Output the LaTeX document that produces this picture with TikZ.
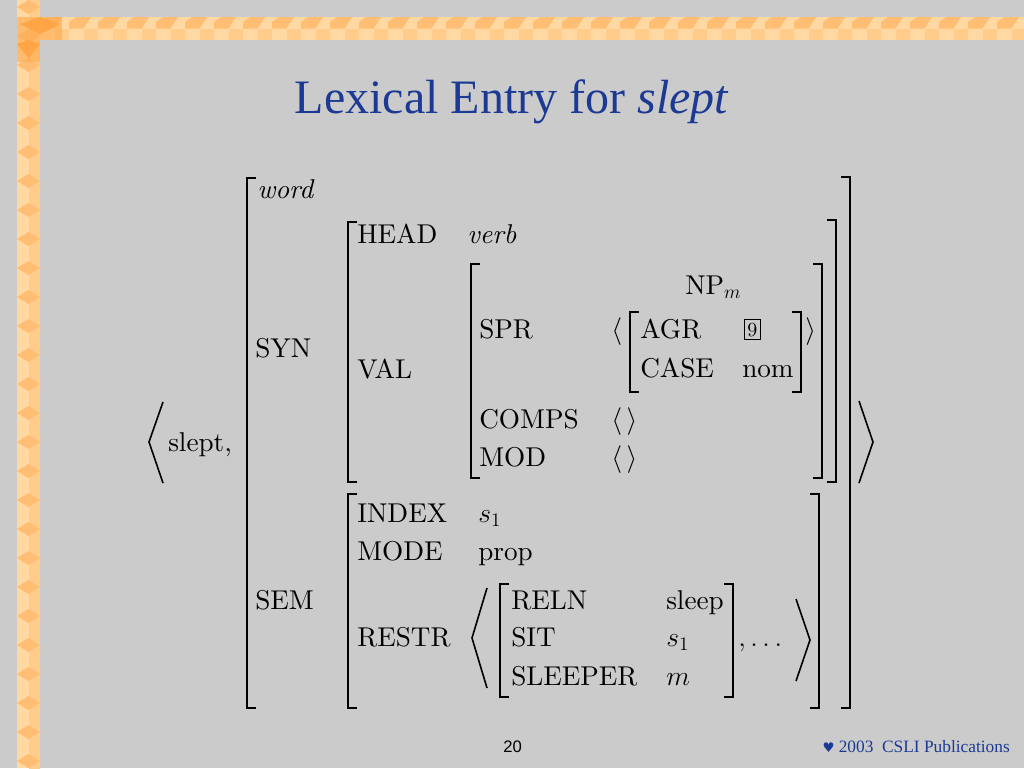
\documentclass[tikz,border=0pt]{standalone}
\usepackage{fontspec}
\newfontfamily\avmrm{lmroman10-regular}[Extension=.otf,ItalicFont=lmroman10-italic]
\newfontfamily\timesfont{Liberation Serif}
\newfontfamily\arialfont{Liberation Sans}
\newfontfamily\symbfont{DejaVu Sans}
\definecolor{slidebg}{HTML}{CBCBCB}
\definecolor{titleblue}{HTML}{1C3A94}
\definecolor{orlight}{HTML}{FFD8A2}
\definecolor{ormid}{HTML}{FFCC8C}
\definecolor{ordark}{HTML}{FFBE74}
\definecolor{orcorner}{HTML}{FFA545}
\newcommand{\avmfont}{\avmrm\fontsize{20.4}{24}\selectfont}
% brackets of the attribute-value matrix
\newcommand{\avmlbrack}[3]{\draw[brk] (#1+9,#2)--(#1,#2)--(#1,#3)--(#1+9,#3);}
\newcommand{\avmrbrack}[3]{\draw[brk] (#1-9,#2)--(#1,#2)--(#1,#3)--(#1-9,#3);}
\tikzset{
  lbl/.style={anchor=base west,inner sep=0pt,font=\avmfont},
  brk/.style={line width=1.6pt},
  ang/.style={line width=1.2pt,line join=miter}
}
\begin{document}
\begin{tikzpicture}[x=0.75pt,y=-0.75pt]
\useasboundingbox (0,0) rectangle (1024,768);
\fill[slidebg] (0,0) rectangle (1024,768);
% orange border
\fill[orlight] (17,0) rectangle (40,768);\fill[orlight] (17,17) rectangle (1024,40);
\foreach \y in {0,29,...,756} {\fill[ormid] (28.5,\y) rectangle (40,\y+29);\fill[ordark] (17,\y+7)--(28.5,\y)--(40,\y+7)--(28.5,\y+14)--cycle;}
\foreach \x in {40,69,...,1020} {\fill[ormid] (\x+14.5,28.5) rectangle (\x+29,40);\fill[ordark] (\x,22)--(\x+7,17)--(\x+22,17)--(\x+14.5,28.5)--(\x,28.5)--cycle;}
\fill[orcorner,opacity=0.55] (17,17) rectangle (62,40);\fill[orcorner,opacity=0.55] (17,40) rectangle (40,62);
\fill[orcorner] (20,24)--(40,17)--(60,24)--(40,34)--cycle;\fill[orcorner] (17,44)--(28.5,40)--(40,44)--(28.5,58)--cycle;
% title
\node[anchor=base,inner sep=0pt,text=titleblue,font=\timesfont\fontsize{36}{40}\selectfont] (title) at (512,113) {Lexical Entry for \textit{slept}};
% outer list
\draw[ang] (163,402)--(149,442)--(163,483);\draw[ang] (859,401)--(873,442)--(859,483);
\node[lbl] (slept) at (168,451) {slept,};
\avmlbrack{247}{178}{708}\avmrbrack{850}{177}{708}
\node[lbl] (word) at (257,198) {\textit{word}};
\node[lbl] (syn) at (255,357) {SYN};
\node[lbl] (sem) at (255,609) {SEM};
% SYN value
\avmlbrack{348}{222}{482}\avmrbrack{836}{220}{482}
\node[lbl] (head) at (357,243) {HEAD};\node[lbl] (verb) at (467,243) {\textit{verb}};
\node[lbl] (val) at (357,378) {VAL};
\avmlbrack{471}{264}{478}\avmrbrack{822}{264}{478}
\node[lbl] (npm) at (685,294) {NP$_m$};
\node[lbl] (spr) at (479,338) {SPR};\node[lbl] (sprl) at (611,338) {$\langle$};
\avmlbrack{630}{312}{392}\avmrbrack{801}{312}{392}
\node[lbl] (agr) at (640,338) {AGR};
\node[lbl,draw,inner sep=2.2pt,font=\avmrm\fontsize{15}{17}\selectfont,line width=0.7pt] (tag) at (744,336) {9};
\node[lbl] (case) at (640,377) {CASE};\node[lbl] (nom) at (742,377) {nom};
\node[lbl] (sprr) at (805,338) {$\rangle$};
\node[lbl] (comps) at (479,428) {COMPS};\node[lbl] (compsl) at (611,428) {$\langle\,\rangle$};
\node[lbl] (mod) at (479,466) {MOD};\node[lbl] (modl) at (611,466) {$\langle\,\rangle$};
% SEM value
\avmlbrack{348}{494}{708}\avmrbrack{819}{494}{708}
\node[lbl] (index) at (357,522) {INDEX};\node[lbl] (indexv) at (478,522) {$s_1$};
\node[lbl] (mode) at (357,560) {MODE};\node[lbl] (modev) at (478,560) {prop};
\node[lbl] (restr) at (357,646) {RESTR};
\draw[ang] (487,588)--(472,638)--(487,688);\draw[ang] (796,599)--(810,640)--(796,681);
\avmlbrack{500}{584}{697}\avmrbrack{733}{584}{697}
\node[lbl] (reln) at (511,609) {RELN};\node[lbl] (relnv) at (666,609) {sleep};
\node[lbl] (sit) at (511,646) {SIT};\node[lbl] (sitv) at (666,646) {$s_1$};
\node[lbl] (sleeper) at (511,685) {SLEEPER};\node[lbl] (sleeperv) at (666,685) {$m$};
\node[lbl] (dots) at (738,646) {$,\ldots$};
% footer
\node[anchor=base west,inner sep=0pt,font=\arialfont\fontsize{12.5}{14}\selectfont] (page) at (503,752) {20};
\node[anchor=base east,inner sep=0pt,text=titleblue,font=\timesfont\fontsize{13}{15}\selectfont] (credit) at (1010,752) {{\symbfont\fontsize{10}{12}\selectfont ♥} 2003\ \ CSLI Publications};
\end{tikzpicture}
\end{document}
